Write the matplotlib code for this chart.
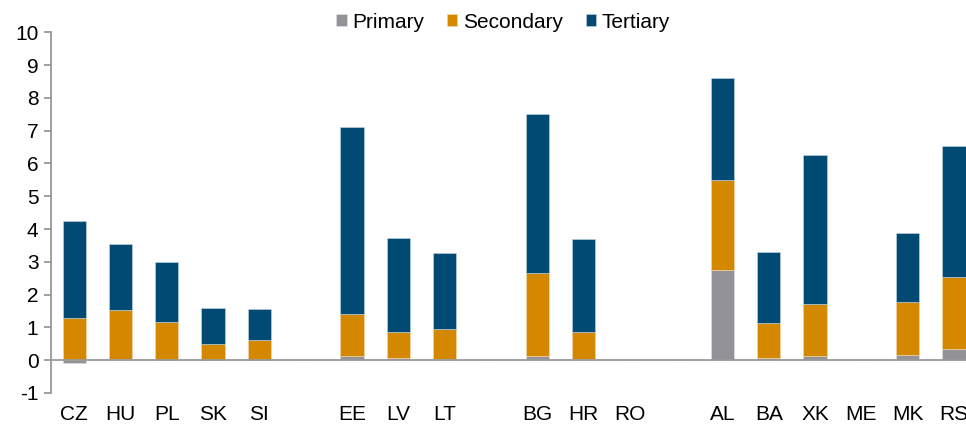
import matplotlib
matplotlib.use("Agg")
import matplotlib.pyplot as plt
import numpy as np

plt.rcParams["font.family"] = ["Liberation Sans", "DejaVu Sans"]
plt.rcParams["axes.unicode_minus"] = False

# '' entries are the gaps between country groups
countries = ["CZ", "HU", "PL", "SK", "SI", "",
             "EE", "LV", "LT", "",
             "BG", "HR", "RO", "",
             "AL", "BA", "XK", "ME", "MK", "RS"]
primary = [-0.07, 0.03, 0.01, 0.0, 0.0, 0,
           0.12, 0.08, 0.03, 0,
           0.13, 0.03, 0.0, 0,
           2.74, 0.08, 0.12, 0.0, 0.15, 0.34]
secondary = [1.29, 1.49, 1.15, 0.48, 0.63, 0,
             1.30, 0.78, 0.91, 0,
             2.52, 0.82, 0.0, 0,
             2.77, 1.05, 1.60, 0.0, 1.64, 2.19]
tertiary = [2.95, 2.03, 1.82, 1.12, 0.92, 0,
            5.68, 2.88, 2.33, 0,
            4.85, 2.85, 0.0, 0,
            3.10, 2.16, 4.55, 0.0, 2.10, 4.00]

c_prim = "#939297"
c_sec = "#D48800"
c_ter = "#004A73"

p = np.array(primary)
s = np.array(secondary)
t = np.array(tertiary)
x = np.arange(len(countries))

# negative values stack below zero, positives above
pos_base = np.where(p > 0, p, 0)

fig = plt.figure(figsize=(9.66, 4.25), dpi=100)
ax = fig.add_axes([51 / 966, 1 - 393 / 425, 1 - 51 / 966, (393 - 32.3) / 425])

w = 0.5
ax.bar(x, p, w, color=c_prim, label="Primary", edgecolor="#dde6ee", linewidth=0.4, zorder=2)
ax.bar(x, s, w, bottom=pos_base, color=c_sec, label="Secondary", edgecolor="#f0d9b0", linewidth=0.4, zorder=2)
ax.bar(x, t, w, bottom=pos_base + s, color=c_ter, label="Tertiary", edgecolor="#c8d8e6", linewidth=0.4, zorder=2)

ax.axhline(0, color="#999999", linewidth=1.3, zorder=3)

ax.set_xlim(-0.5, 19.26)
ax.set_ylim(-1, 10)
ax.set_yticks(range(-1, 11))
ax.set_xticks(x)
ax.set_xticklabels(countries)

for sp in ["top", "right", "bottom"]:
    ax.spines[sp].set_visible(False)
ax.spines["left"].set_color("#999999")
ax.spines["left"].set_linewidth(1.3)
ax.tick_params(axis="y", length=5, width=1.3, color="#999999", labelsize=15, pad=4)
ax.tick_params(axis="x", length=0, labelsize=15, pad=9)

fig.legend(loc="center", bbox_to_anchor=(503 / 966, 0.948), ncol=3, frameon=False,
           fontsize=15, handlelength=0.5, handleheight=0.5, handletextpad=0.25,
           columnspacing=1.1)

fig.savefig("out.png", dpi=100)
